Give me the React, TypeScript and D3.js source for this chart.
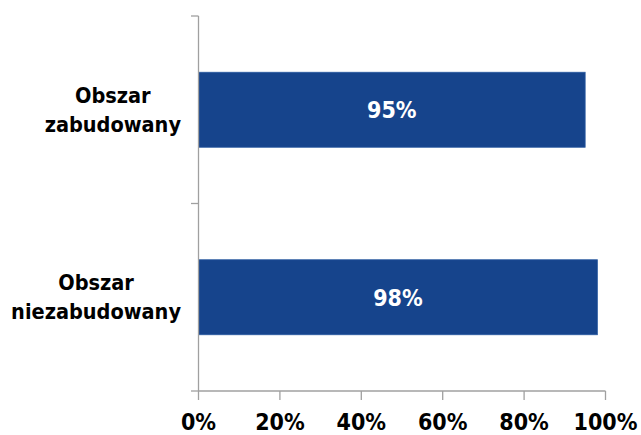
import React, { useEffect, useRef } from "react";
import * as d3 from "d3";

const categories = ["Obszar zabudowany", "Obszar niezabudowany"];
const categoryLines = [["Obszar", "zabudowany"], ["Obszar", "niezabudowany"]];
const values = [0.95, 0.98];
const xTicks = [0, 0.2, 0.4, 0.6, 0.8, 1.0];

const W = 641, H = 435;
const FONT = "'DejaVu Sans Condensed', 'DejaVu Sans', sans-serif";

export default function App() {
  const ref = useRef<SVGSVGElement>(null);
  useEffect(() => {
    const svg = d3.select(ref.current);
    svg.selectAll("*").remove();
    const x = d3.scaleLinear().domain([0, 1]).range([198.5, 605.5]);
    const y = d3.scaleBand<string>().domain(categories).range([16, 391]).paddingInner(0.6).paddingOuter(0.3);
    const axisColor = "#a0a0a0";

    // bars
    svg.selectAll("rect.bar").data(values).enter().append("rect")
      .attr("x", x(0)).attr("y", (_, i) => y(categories[i])!)
      .attr("width", (d) => x(d) - x(0)).attr("height", y.bandwidth())
      .attr("fill", "#16448c").attr("stroke", "#2a5aa0").attr("stroke-width", 0.8);

    svg.selectAll("text.val").data(values).enter().append("text")
      .attr("x", (d) => (x(0) + x(d)) / 2)
      .attr("y", (_, i) => y(categories[i])! + y.bandwidth() / 2)
      .attr("dy", "0.36em").attr("text-anchor", "middle")
      .attr("fill", "white").attr("font-family", FONT).attr("font-weight", "bold")
      .attr("font-size", 23).text((d) => `${Math.round(d * 100)}%`);

    // y axis line
    svg.append("line").attr("x1", x(0)).attr("x2", x(0)).attr("y1", 16).attr("y2", 391)
      .attr("stroke", axisColor).attr("stroke-width", 1.3);
    const yTickPos = [16, (16 + 391) / 2, 391];
    yTickPos.forEach((p) => {
      svg.append("line").attr("x1", 191).attr("x2", x(0)).attr("y1", p).attr("y2", p)
        .attr("stroke", axisColor).attr("stroke-width", 1.3);
    });

    // x axis
    svg.append("line").attr("x1", x(0)).attr("x2", x(1)).attr("y1", 391).attr("y2", 391)
      .attr("stroke", axisColor).attr("stroke-width", 1.3);
    xTicks.forEach((t) => {
      svg.append("line").attr("x1", x(t)).attr("x2", x(t)).attr("y1", 391).attr("y2", 400)
        .attr("stroke", axisColor).attr("stroke-width", 1.3);
      svg.append("text").attr("x", x(t)).attr("y", 430).attr("text-anchor", "middle")
        .attr("font-family", FONT).attr("font-weight", "bold").attr("font-size", 23)
        .attr("fill", "#000").text(d3.format(".0%")(t));
    });

    // category labels
    categories.forEach((c, i) => {
      const g = svg.append("g");
      const cy = y(c)! + y.bandwidth() / 2;
      const lines = categoryLines[i];
      const texts = lines.map((l, j) =>
        g.append("text").attr("y", cy + (j - (lines.length - 1) / 2) * 29)
          .attr("dy", "0.35em")
          .attr("text-anchor", "middle").attr("font-family", FONT).attr("font-weight", "bold")
          .attr("font-size", 21.5).attr("fill", "#000").text(l)
      );
      const maxW = d3.max(texts, (t) => (t.node() as SVGTextElement).getComputedTextLength()) || 0;
      texts.forEach((t) => t.attr("x", 181 - maxW / 2));
    });
  }, []);
  return <svg ref={ref} width={W} height={H} style={{ position: "absolute", left: 0, top: 0, background: "white" }} />;
}
